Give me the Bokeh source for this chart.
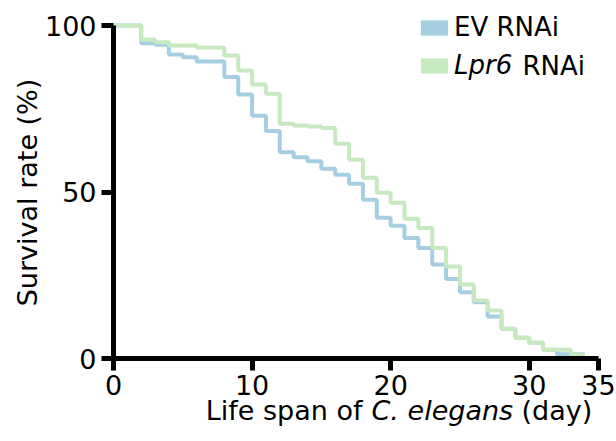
import math
from bokeh.plotting import figure
from bokeh.models import FixedTicker, Range1d, Label, Legend, LegendItem
from bokeh.embed import file_html
from bokeh.resources import INLINE

# ---- data ----
ev_days = [0, 2, 3, 4, 5, 6, 8, 9, 10, 11, 12, 13, 14, 15, 16, 17, 18, 19, 20,
           21, 22, 23, 24, 25, 26, 27, 28, 29, 30, 31, 32, 34]
ev_surv = [100, 94.7, 94.2, 91.3, 90.5, 89.2, 84.5, 79.3, 72.9, 68.3, 61.9, 60.4,
           59.2, 57.0, 55.2, 52.5, 47.7, 42.3, 39.9, 36.2, 33.2, 28.2, 23.9, 19.9,
           16.9, 12.6, 8.9, 6.2, 4.7, 2.6, 1.3, 1.3]

lpr_days = [0, 2, 3, 4, 6, 8, 9, 10, 11, 12, 13, 14, 15, 16, 17, 18, 19, 20, 21,
            22, 23, 24, 25, 26, 27, 28, 29, 30, 31, 33, 34]
lpr_surv = [100, 95.8, 95.0, 94.0, 93.4, 91.0, 86.5, 82.3, 79.5, 70.5, 70.0, 69.7,
            69.2, 64.5, 59.7, 54.3, 49.8, 46.8, 42.0, 39.2, 33.2, 27.6, 22.2, 17.4,
            14.4, 8.9, 6.2, 4.7, 2.6, 1.1, 1.1]

x_ticks = [0, 10, 20, 30, 35]
y_ticks = [0, 50, 100]
series_labels = ["EV RNAi", "Lpr6", "RNAi"]

EV_COLOR = "#a6cee3"
LPR_COLOR = "#c7e9c0"
FONT = "DejaVu Sans"
NAN = float("nan")

W, H = 616, 440
X0_PX, XS = 113, 485 / 35.0      # pixel of day 0, pixels per day
Y0_PX, YS = 358, 333 / 100.0     # pixel of 0 %, pixels per %

p = figure(width=W, height=H,
           x_range=Range1d(-X0_PX / XS, (W - X0_PX) / XS),
           y_range=Range1d(-(H - Y0_PX) / YS, Y0_PX / YS),
           output_backend="svg", toolbar_location=None,
           min_border_left=0, min_border_right=0, min_border_top=0,
           min_border_bottom=0)
p.outline_line_color = None
p.xgrid.visible = False
p.ygrid.visible = False

ev_r = p.step(ev_days, ev_surv, mode="after", line_color=EV_COLOR, line_width=4)
lpr_r = p.step(lpr_days, lpr_surv, mode="after", line_color=LPR_COLOR, line_width=4)

# swatch renderers for the legend (nothing drawn in the plot)
sw_ev = p.quad(left=[NAN], right=[NAN], top=[NAN], bottom=[NAN],
               fill_color=EV_COLOR, line_color=None)
sw_lpr = p.quad(left=[NAN], right=[NAN], top=[NAN], bottom=[NAN],
                fill_color=LPR_COLOR, line_color=None)

for ax in (p.xaxis[0], p.yaxis[0]):
    ax.axis_line_width = 5
    ax.axis_line_color = "black"
    ax.major_tick_line_width = 5
    ax.major_tick_line_color = "black"
    ax.major_tick_out = 12
    ax.major_tick_in = 0
    ax.minor_tick_line_color = None
    ax.major_label_text_font = FONT
    ax.major_label_text_font_size = "27px"
    ax.major_label_text_color = "black"
    ax.fixed_location = 0

p.xaxis.ticker = FixedTicker(ticks=x_ticks)
p.yaxis.ticker = FixedTicker(ticks=y_ticks)
p.yaxis.bounds = (0, 100)
p.xaxis.bounds = (0, 35)
p.xaxis.major_label_standoff = 4
p.yaxis.major_label_standoff = 5

common = dict(x_units="screen", y_units="screen", text_font=FONT,
              text_baseline="middle", text_color="black")

# y-axis title
p.add_layout(Label(x=27, y=H - 192, text="Survival rate (%)", text_align="center",
                   angle=math.pi / 2, text_font_size="27px", **common))

# x-axis title with italic species name
p.add_layout(Label(x=362, y=H - 410, text="Life span of", text_align="right",
                   text_font_size="27px", **common))
p.add_layout(Label(x=371, y=H - 410, text="C. elegans", text_align="left",
                   text_font_style="italic", text_font_size="27px", **common))
p.add_layout(Label(x=521, y=H - 410, text="(day)", text_align="left",
                   text_font_size="27px", **common))

leg_common = dict(padding=0, margin=0, border_line_color=None, background_fill_alpha=0,
                  glyph_width=34, glyph_height=19, label_standoff=3,
                  label_text_font=FONT, label_text_font_size="26px",
                  label_text_color="black", spacing=0)
leg_ev = Legend(items=[LegendItem(label=series_labels[0], renderers=[sw_ev])],
                location=(417, 398), **leg_common)
leg_lpr = Legend(items=[LegendItem(label=series_labels[1], renderers=[sw_lpr])],
                 location=(417, 360), label_text_font_style="italic", **leg_common)
p.add_layout(leg_ev)
p.add_layout(leg_lpr)
p.add_layout(Label(x=522, y=H - 65, text=series_labels[2], text_align="left",
                   text_font_size="26px", **common))

open("out.html", "w").write(file_html(p, INLINE))
